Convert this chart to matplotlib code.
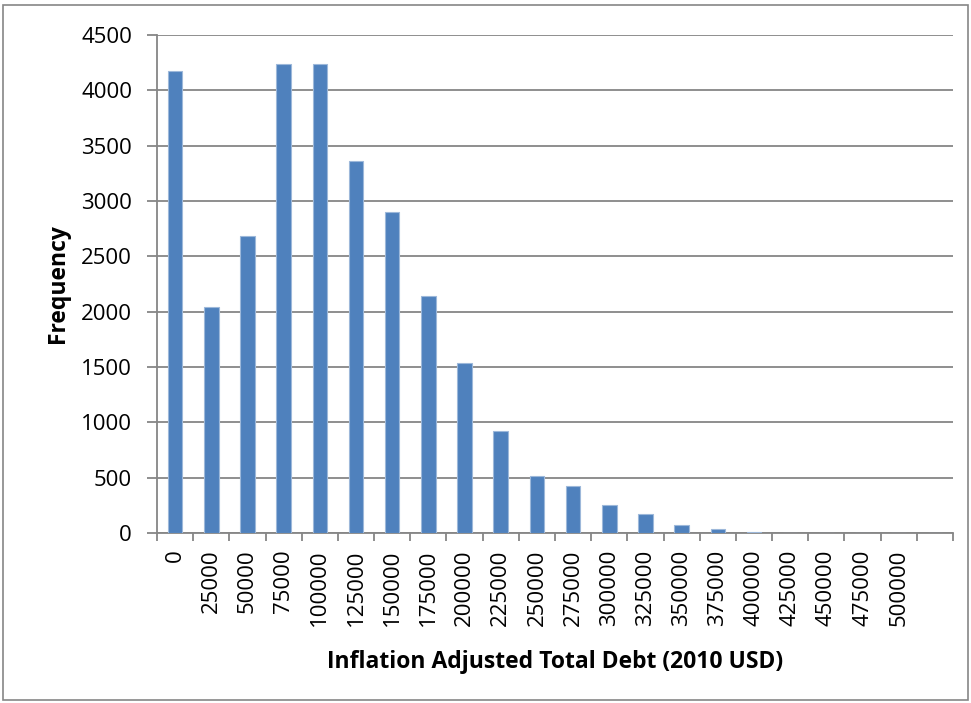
import numpy as np
import matplotlib
matplotlib.use("Agg")
from matplotlib import pyplot as plt
from matplotlib.patches import Rectangle

# histogram bins (upper edge of each bin) and counts; last bin has no label
bin_labels = ['0', '25000', '50000', '75000', '100000', '125000', '150000',
              '175000', '200000', '225000', '250000', '275000', '300000',
              '325000', '350000', '375000', '400000', '425000', '450000',
              '475000', '500000', '']
counts = [4175, 2045, 2680, 4235, 4235, 3360, 2900, 2140, 1540, 920, 518,
          428, 253, 175, 76, 37, 10, 2, 0, 0, 0, 0]
y_ticks = list(range(0, 4501, 500))

plt.rcParams['font.family'] = ['Open Sans', 'DejaVu Sans']

W, H = 971, 703
fig = plt.figure(figsize=(W / 100, H / 100), dpi=100)
ax = fig.add_axes([157 / W, (H - 533) / H, (953 - 157) / W, (533 - 35) / H])

grey = '#868686'
x = np.arange(len(counts))
ax.bar(x, counts, width=0.4, color='#4F81BD', edgecolor='#9DB8DA',
       linewidth=0.8, zorder=3)

ax.set_xlim(-0.5, len(counts) - 0.5)
ax.set_ylim(0, 4500)
ax.set_yticks(y_ticks)
ax.set_yticklabels([str(v) for v in y_ticks], fontsize=16)
ax.yaxis.grid(True, color=grey, linewidth=1.3, zorder=0)

ax.set_xticks(x)
ax.set_xticklabels(bin_labels, rotation=90, fontsize=16, va='top')
ax.set_xticks(np.arange(len(counts) + 1) - 0.5, minor=True)
ax.tick_params(axis='x', which='major', length=0, pad=12)
ax.tick_params(axis='x', which='minor', length=6, width=1.3, color=grey)
ax.tick_params(axis='y', length=7, width=1.3, color=grey, pad=11)

for side in ['top', 'right']:
    ax.spines[side].set_visible(False)
for side in ['left', 'bottom']:
    ax.spines[side].set_color(grey)
    ax.spines[side].set_linewidth(1.3)

ax.set_xlabel('Inflation Adjusted Total Debt (2010 USD)', fontsize=16.5,
              fontweight='bold', va='center')
ax.xaxis.set_label_coords(0.5, (533 - 662) / 498)
ax.set_ylabel('Frequency', fontsize=16.5, fontweight='bold', va='center')
ax.yaxis.set_label_coords((58 - 157) / 796, 0.5)

# chart frame
fig.patches.append(Rectangle((3 / W, 3 / H), (W - 6) / W, (H - 8) / H,
                             transform=fig.transFigure, fill=False,
                             edgecolor=grey, linewidth=1.2))

fig.savefig('out.png', dpi=100)
